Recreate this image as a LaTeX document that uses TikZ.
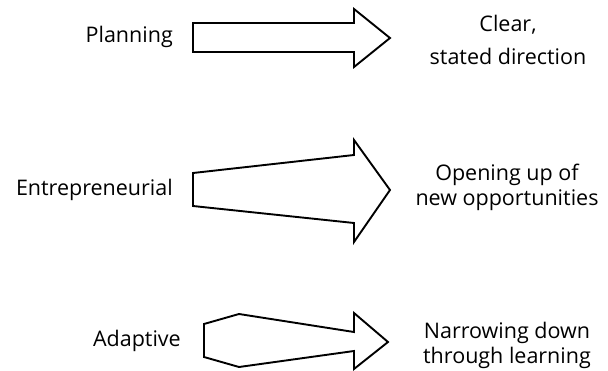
\documentclass[tikz,border=0pt]{standalone}
\usepackage{fontspec}
\setmainfont{Open Sans}
\begin{document}
\begin{tikzpicture}[x=1pt,y=-1pt,
  arrowshape/.style={draw=black,line width=1.9pt,line join=miter,fill=white},
  lbl/.style={font=\fontsize{21.5}{26}\selectfont,inner sep=0pt},
  outcome/.style={font=\fontsize{21.5}{25}\selectfont,inner sep=0pt,align=center}]
\useasboundingbox (0,0) rectangle (608,370);
\fill[white] (0,0) rectangle (608,370);

% Planning: straight shaft
\draw[arrowshape] (193,23) -- (354,23) -- (354,9) -- (390,38) -- (354,67)
  -- (354,52) -- (193,52) -- cycle;
% Entrepreneurial: shaft widening to the right
\draw[arrowshape] (193,173) -- (354,155) -- (354,140) -- (390,190) -- (354,242)
  -- (354,223) -- (193,206) -- cycle;
% Adaptive: shaft bulging then narrowing
\draw[arrowshape] (204,324) -- (239,314) -- (354,332) -- (354,313) -- (388,342)
  -- (354,369) -- (354,351) -- (239,367) -- (204,357) -- cycle;

% strategy labels
\node[lbl,anchor=east] (plan) at (173,37) {Planning};
\node[lbl,anchor=east] (entr) at (173,190) {Entrepreneurial};
\node[lbl,anchor=east] (adap) at (181,341) {Adaptive};

% outcome labels
\node[outcome,font=\fontsize{21.5}{33}\selectfont] (clear) at (508,40) {Clear,\\stated direction};
\node[outcome] (open) at (507,187) {Opening up of\\new opportunities};
\node[outcome] (narrow) at (507,345) {Narrowing down\\through learning};
\end{tikzpicture}
\end{document}
